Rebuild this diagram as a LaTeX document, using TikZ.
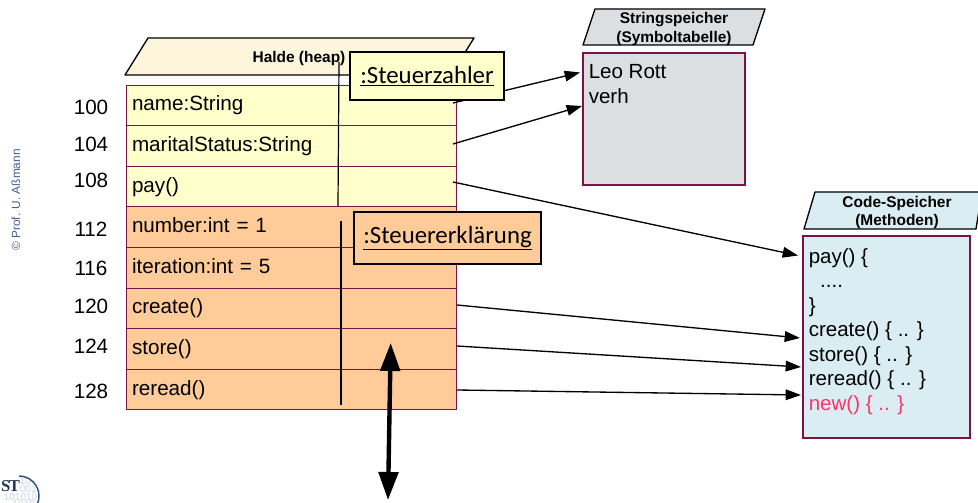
\documentclass[tikz,border=0pt]{standalone}
\usepackage{fontspec}
\setmainfont{Liberation Sans}
\newfontfamily\objfont{Carlito}
\newfontfamily\logofont{Liberation Serif}
\usetikzlibrary{positioning,arrows.meta}
\definecolor{memborder}{HTML}{7B1248}
\definecolor{memyellow}{HTML}{FFFFCC}
\definecolor{memorange}{HTML}{FFCC99}
\definecolor{heapcream}{HTML}{FDF5DC}
\definecolor{stringgray}{HTML}{DCDFE2}
\definecolor{codeblue}{HTML}{D9EDF3}
\definecolor{newpink}{HTML}{FF3366}
\definecolor{logoblue}{HTML}{2F4F86}
\definecolor{logopale}{HTML}{CDD3EC}
\tikzset{
  memrow/.style={draw=memborder, line width=0.6pt, outer sep=0pt, inner sep=0pt, minimum height=30.45pt,
    text width=238.5pt, minimum width=247.5pt, align=left, text height=11pt, text depth=2.5pt, font=\fontsize{15.5}{18}\selectfont},
  addr/.style={font=\fontsize{15.5}{18}\selectfont},
  header/.style={draw=black, line width=1pt, line join=round},
  headtext/.style={font=\bfseries\fontsize{11.6}{14}\selectfont, align=center, inner sep=0pt},
  store/.style={draw=memborder, line width=0.8pt},
  storetext/.style={font=\fontsize{15.4}{18.4}\selectfont, align=left, anchor=north west, inner sep=0pt},
  obj/.style={draw=black, line width=1pt, inner sep=0pt, outer sep=0pt, font=\objfont\fontsize{18.6}{22}\selectfont},
  life/.style={draw=black, line width=0.9pt},
  link/.style={draw=black, line width=1pt, -{Triangle[length=11.5pt,width=8pt]}},
  logodigit/.style={text=logopale, font=\fontsize{7.5}{8}\selectfont, inner sep=0pt, anchor=east},
}
\begin{document}
\begin{tikzpicture}[x=0.75pt,y=-0.75pt]
    \clip (0,0) rectangle (978,503);

    %Heap header
    \draw[header, fill=heapcream] (148,38) -- (474,38) -- (451,75) -- (125,75) -- cycle;
    \node[headtext] (halde) at (299,58.5) {Halde (heap)};

    %Rows
    \node[memrow, fill=memyellow, anchor=north west] (name) at (126,85) {name:String};
    \node[memrow, fill=memyellow, below=0pt of name] (status) {maritalStatus:String};
    \node[memrow, fill=memyellow, below=0pt of status] (pay) {pay()};
    \node[memrow, fill=memorange, below=0pt of pay] (number) {number:int = 1};
    \node[memrow, fill=memorange, below=0pt of number] (iteration) {iteration:int = 5};
    \node[memrow, fill=memorange, below=0pt of iteration] (create) {create()};
    \node[memrow, fill=memorange, below=0pt of create] (storerow) {store()};
    \node[memrow, fill=memorange, below=0pt of storerow] (reread) {reread()};

    %Addresses
    \node[addr] (a100) at (91,107.5) {100};
    \node[addr] (a104) at (91,144.5) {104};
    \node[addr] (a108) at (91,180.5) {108};
    \node[addr] (a112) at (91,229.5) {112};
    \node[addr] (a116) at (91,268.5) {116};
    \node[addr] (a120) at (91,306.5) {120};
    \node[addr] (a124) at (91,346.5) {124};
    \node[addr] (a128) at (91,391.5) {128};

    % String store
    \draw[header, fill=stringgray] (595,9) -- (765,9) -- (753,45) -- (583,45) -- cycle;
    \node[headtext] (stringhead) at (674,29) {Stringspeicher\\(Symboltabelle)};
    \draw[store, fill=stringgray] (583,53) rectangle (745,185);
    \node[storetext] (strings) at (588.5,64.5) {Leo Rott\\verh};

    % Code store
    \draw[header, fill=codeblue] (815,192) -- (982,192) -- (976,229) -- (804,229) -- cycle;
    \node[headtext] (codehead) at (897,212.5) {Code-Speicher\\(Methoden)};
    \draw[store, fill=codeblue] (803,236) rectangle (970,438);
    \node[storetext] (code) at (808.5,248) {pay() \{\\\ \ ....\\\}\\create() \{ .. \}\\store() \{ .. \}\\reread() \{ .. \}\\\textcolor{newpink}{new() \{ .. \}}};

    % Lifelines
    \coordinate (zahlertop) at (339,62);
    \coordinate (zahlerend) at (338,206);
    \coordinate (erkltop) at (341,221);
    \coordinate (erklend) at (341,405);
    \draw[life] (zahlertop) -- (zahlerend);
    \draw[life] (erkltop) -- (erklend);

    % References
    \coordinate (namefrom) at (453,103);
    \coordinate (statusfrom) at (453,144);
    \coordinate (payfrom) at (453,182);
    \coordinate (createfrom) at (457,305);
    \coordinate (storefrom) at (457,346);
    \coordinate (rereadfrom) at (457,390);
    \coordinate (leoto) at (580,72.5);
    \coordinate (verhto) at (582,106);
    \coordinate (payto) at (798,255.5);
    \coordinate (createto) at (800,338);
    \coordinate (storeto) at (801,367);
    \coordinate (rereadto) at (801,395);
    \draw[link] (namefrom) -- (leoto);
    \draw[link] (statusfrom) -- (verhto);
    \draw[link] (payfrom) -- (payto);
    \draw[link] (createfrom) -- (createto);
    \draw[link] (storefrom) -- (storeto);
    \draw[link] (rereadfrom) -- (rereadto);

    % Objects
    \node[obj, fill=memyellow, minimum width=115.5pt, minimum height=36pt] (zahler) at (427,76) {\underline{:Steuerzahler}};
    \node[obj, fill=memorange, minimum width=140.25pt, minimum height=39pt] (erkl) at (447.5,238) {\underline{:Steuererklärung}};

    % Big arrow
    \coordinate (bigtop) at (390.7,343);
    \coordinate (bigend) at (388,500);
    \draw[line width=3.3pt, {Triangle[length=21pt,width=14.5pt]}-{Triangle[length=21pt,width=14.5pt]}] (bigtop) -- (bigend);

    % Copyright
    \node[rotate=90, text=logoblue!90!white, font=\fontsize{8.9}{10}\selectfont, inner sep=0pt] (copyright) at (16,200) {© Prof. U. Aßmann};

    % Logo
    \node[logodigit] (digitsa) at (31,481) {10};
    \node[logodigit] (digitsb) at (37,489) {001};
    \node[logodigit] (digitsc) at (37.5,497) {101010};
    \node[logodigit] (digitsd) at (35,504) {1010};
    \draw[logoblue, line width=1.1pt] (19,476) arc (-90:50:20);
    \node[font=\logofont\bfseries\fontsize{12.5}{14}\selectfont, text=logoblue!70!black, inner sep=0pt] (st) at (10.5,486.5) {S\kern-1.2pt T};
\end{tikzpicture}
\end{document}
